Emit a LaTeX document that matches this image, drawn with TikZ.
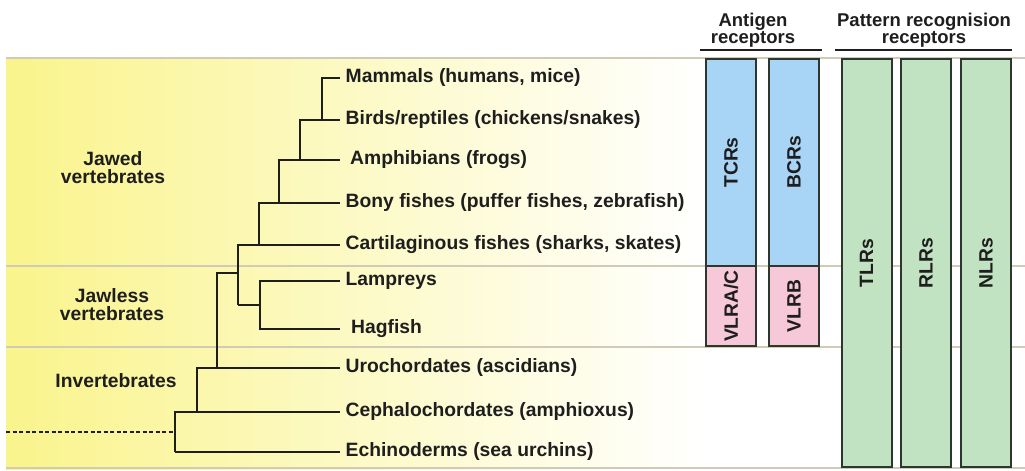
\documentclass[tikz,border=0pt]{standalone}
\usepackage{fontspec}
\setmainfont{Liberation Sans}
\definecolor{paleyel}{RGB}{250,244,140}
\definecolor{sepline}{RGB}{208,203,185}
\definecolor{tcrblue}{RGB}{168,212,245}
\definecolor{vlrpink}{RGB}{246,200,216}
\definecolor{prrgreen}{RGB}{194,227,194}
\definecolor{barline}{RGB}{45,55,45}
\definecolor{ink}{RGB}{30,30,30}
\begin{document}
\begin{tikzpicture}[
    x=1pt, y=-1pt,
    txt/.style={font=\fontsize{19.3}{18}\selectfont\bfseries, text=ink},
    leaf/.style={txt, anchor=west, inner xsep=5.5pt, inner ysep=0pt},
    group/.style={txt, align=center},
    head/.style={font=\fontsize{18.5}{17}\selectfont\bfseries, text=ink, align=center},
    branch/.style={line width=2pt, ink},
    sep/.style={line width=2pt, sepline},
    bar/.style={draw=barline, line width=2pt, minimum height=50pt, rotate=90, txt, inner sep=0pt}
]
\useasboundingbox (0,0) rectangle (1025,471);

% --- Background panel ---
\shade[left color=paleyel, right color=white] (6,58) rectangle (705,469);
\foreach \y in {58,266,347,468}
    \draw[sep] (6,\y) -- (1025,\y);

% --- Species ---
\node[leaf] (mam) at (340,78) {Mammals (humans, mice)};
\node[leaf] (bir) at (340,120) {Birds/reptiles (chickens/snakes)};
\node[leaf, inner xsep=10pt] (amp) at (340,160) {Amphibians (frogs)};
\node[leaf] (bon) at (340,203) {Bony fishes (puffer fishes, zebrafish)};
\node[leaf] (car) at (340,245) {Cartilaginous fishes (sharks, skates)};
\node[leaf] (lam) at (340,281) {Lampreys};
\node[leaf, inner xsep=11pt] (hag) at (340,329) {Hagfish};
\node[leaf] (uro) at (340,368) {Urochordates (ascidians)};
\node[leaf] (cep) at (340,412) {Cephalochordates (amphioxus)};
\node[leaf] (ech) at (340,452) {Echinoderms (sea urchins)};

% --- Branch points ---
\coordinate (k1) at (322,120);
\coordinate (k2) at (300,160);
\coordinate (k3) at (279,203);
\coordinate (k4) at (259,245);
\coordinate (k5) at (238,305);
\coordinate (k6) at (260,305);
\coordinate (k7) at (238,273);
\coordinate (k8) at (217,368);
\coordinate (k9) at (197,412);
\coordinate (k10) at (175,452);
\coordinate (root) at (6,432);

\draw[branch] (mam.west) -| (k1);
\draw[branch] (bir.west) -| (k2);
\draw[branch] (amp.west) -| (k3);
\draw[branch] (bon.west) -| (k4);
\draw[branch] (car.west) -| (k5);
\draw[branch] (lam.west) -| (k6) |- (hag.west);
\draw[branch] (k6) -- (k5);
\draw[branch] (k7) -| (k8);
\draw[branch] (uro.west) -| (k9);
\draw[branch] (cep.west) -| (k10);
\draw[branch] (ech.west) -- (k10);
\draw[branch, dash pattern=on 4pt off 2.5pt] (root) -- (k10 |- root);

% --- Groups ---
\node[group] (jawed) at (113,168) {Jawed\\vertebrates};
\node[group] (jawless) at (112,305) {Jawless\\vertebrates};
\node[group] (inv) at (116,381) {Invertebrates};

% --- Receptors ---
\node[head] (agr) at (753,30) {Antigen\\receptors};
\node[head] (prr) at (924,30) {Pattern recognision\\receptors};
\draw[line width=2pt, ink] (700,50) -- (822,50);
\draw[line width=2pt, ink] (835,50) -- (1012,50);

\node[bar, fill=tcrblue, minimum width=207pt] (tcr) at (731,162.5) {TCRs};
\node[bar, fill=tcrblue, minimum width=207pt] (bcr) at (794,162.5) {BCRs};
\node[bar, fill=vlrpink, minimum width=80pt] (vlra) at (731,306) {VLRA/C};
\node[bar, fill=vlrpink, minimum width=80pt] (vlrb) at (794,306) {VLRB};
\node[bar, fill=prrgreen, minimum width=408pt] (tlr) at (866.5,263) {TLRs};
\node[bar, fill=prrgreen, minimum width=408pt] (rlr) at (926,263) {RLRs};
\node[bar, fill=prrgreen, minimum width=408pt] (nlr) at (986,263) {NLRs};

\end{tikzpicture}
\end{document}
